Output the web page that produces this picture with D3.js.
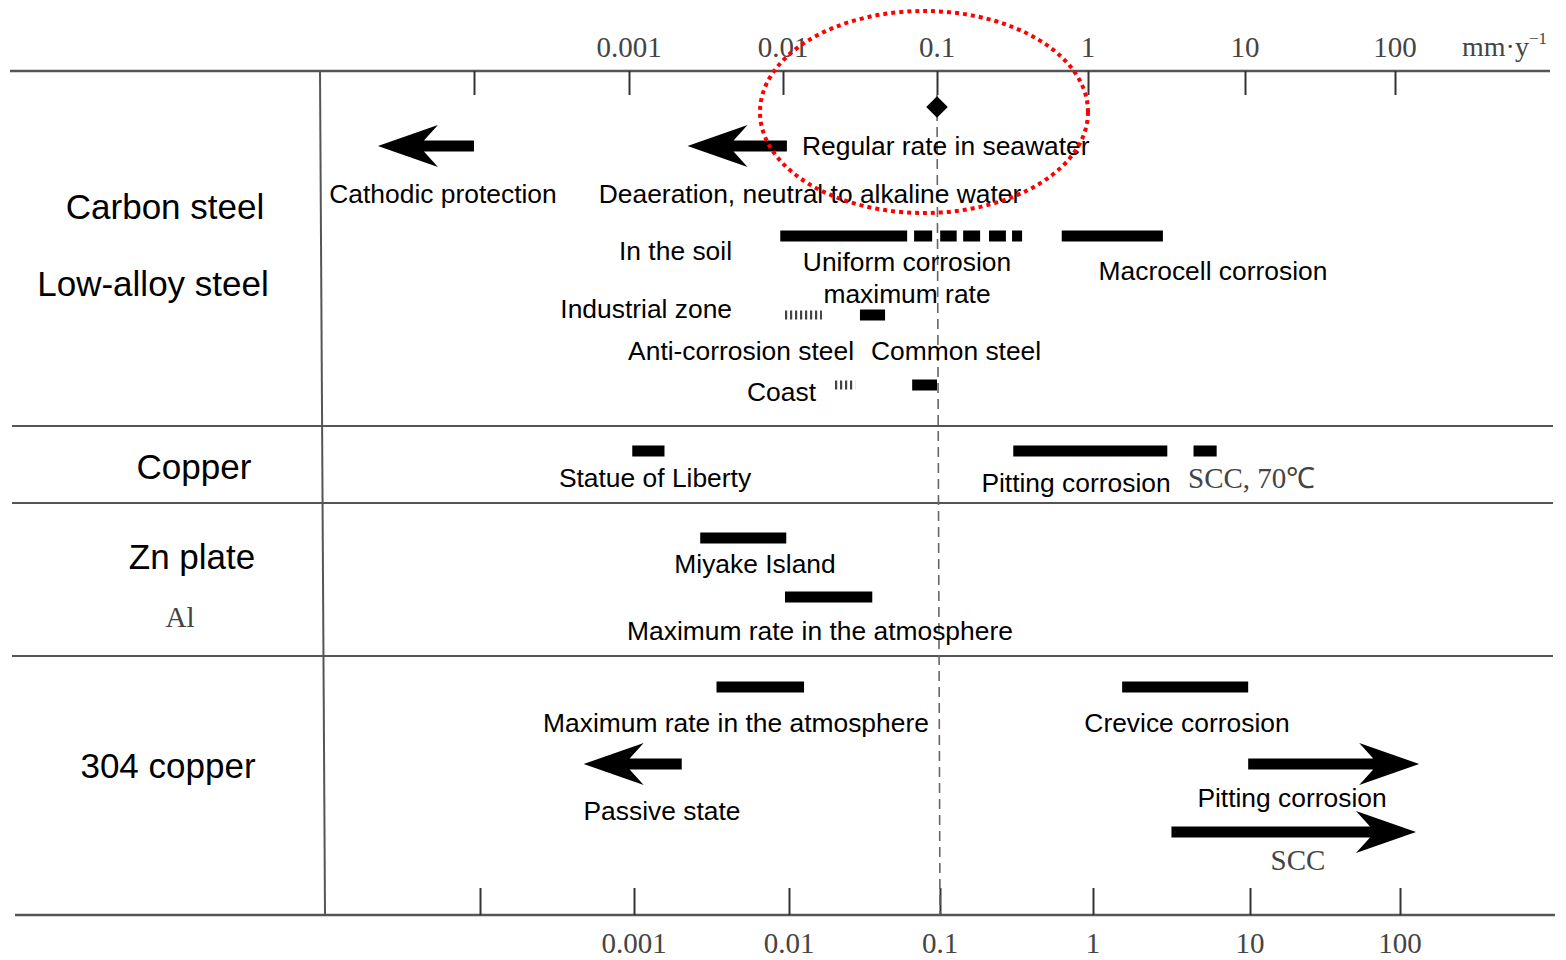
<!DOCTYPE html>
<html lang="en">
<head>
<meta charset="utf-8">
<title>Corrosion rates</title>
<script src="https://d3js.org/d3.v7.min.js"></script>
<style>
  body { margin: 0; background: #fff; }
  .sans { font-family: "Liberation Sans", Arial, sans-serif; fill: #000; }
  .serif { font-family: "Liberation Serif", "Times New Roman", serif; fill: #444; }
</style>
</head>
<body>
<script>
// decades of the rate axis (mm/y) and their labels
var decades = [0.0001, 0.001, 0.01, 0.1, 1, 10, 100];
var tickLabels = ["", "0.001", "0.01", "0.1", "1", "10", "100"];

// bars, [from, to] in mm/y
var soilBars = [[0.0096, 0.064], [0.071, 0.093], [0.105, 0.135], [0.149, 0.193], [0.221, 0.286], [0.314, 0.366], [0.67, 3.0]];
var industrialSolid = [[0.0316, 0.046]];
var industrialHatch = [[0.0103, 0.0179]];
var coastSolid = [[0.069, 0.1]];
var coastHatch = [[0.0214, 0.0294]];
var copperBars = [[0.00105, 0.0017], [0.32, 3.2], [4.7, 6.6]];
var znBars = [[0.0029, 0.0105]];
var alBars = [[0.0103, 0.038]];
var ss304Bars = [[0.0037, 0.0137], [1.65, 10.5]];

// arrows, [tail, tip] in mm/y
var cathodicArrow = [0.0001, 0.000024];
var deaerationArrow = [0.0106, 0.0024];
var passiveArrow = [0.0022, 0.00051];
var pittingArrow = [10.5, 145];
var sccArrow = [3.4, 138];

var seawaterRate = 0.1;

var w = 1566, h = 960;

var x = d3.scaleLog()
    .domain(decades)
    .range([474, 629, 783, 937, 1088, 1245, 1395]);
var xb = d3.scaleLog()
    .domain(decades)
    .range([480, 634, 789, 940, 1093, 1250, 1400]);

var svg = d3.select("body").append("svg")
    .attr("width", w)
    .attr("height", h);

var defs = svg.append("defs");
defs.append("pattern")
    .attr("id", "hatch")
    .attr("patternUnits", "userSpaceOnUse")
    .attr("width", 5).attr("height", 10)
    .append("rect")
    .attr("x", 0).attr("y", 0)
    .attr("width", 2.2).attr("height", 10)
    .attr("fill", "#444");

// frame lines
var lineCol = "#555";
svg.append("line").attr("x1", 10).attr("x2", 1550).attr("y1", 71).attr("y2", 71)
    .attr("stroke", lineCol).attr("stroke-width", 2.5);
svg.append("line").attr("x1", 15).attr("x2", 1555).attr("y1", 915).attr("y2", 915)
    .attr("stroke", lineCol).attr("stroke-width", 2.5);
[426, 503, 656].forEach(function(y) {
    svg.append("line").attr("x1", 12).attr("x2", 1553).attr("y1", y).attr("y2", y)
        .attr("stroke", lineCol).attr("stroke-width", 2);
});
svg.append("line").attr("x1", 320).attr("x2", 325).attr("y1", 71).attr("y2", 915)
    .attr("stroke", lineCol).attr("stroke-width", 2);

// top axis
var topAxis = d3.axisTop(x).tickValues(decades).tickSize(-24).tickFormat("");
var gTop = svg.append("g").attr("transform", "translate(0,71)").call(topAxis);
gTop.select(".domain").remove();
gTop.selectAll(".tick line").attr("stroke", "#333").attr("stroke-width", 2);

svg.selectAll(".toplab").data(decades).enter().append("text")
    .attr("class", "serif toplab")
    .attr("x", function(d) { return x(d); })
    .attr("y", 57)
    .attr("text-anchor", "middle")
    .attr("font-size", "29px")
    .text(function(d, i) { return tickLabels[i]; });
svg.append("text").attr("class", "serif")
    .attr("x", 1462).attr("y", 56).attr("font-size", "28px")
    .html('mm·y<tspan dy="-12" font-size="17px">−1</tspan>');

// bottom axis
var botAxis = d3.axisBottom(xb).tickValues(decades).tickSize(-27).tickFormat("");
var gBot = svg.append("g").attr("transform", "translate(0,915)").call(botAxis);
gBot.select(".domain").remove();
gBot.selectAll(".tick line").attr("stroke", "#333").attr("stroke-width", 2);

svg.selectAll(".botlab").data(decades).enter().append("text")
    .attr("class", "serif botlab")
    .attr("x", function(d) { return xb(d); })
    .attr("y", 953)
    .attr("text-anchor", "middle")
    .attr("font-size", "29px")
    .text(function(d, i) { return tickLabels[i]; });

// dashed line at seawater rate
svg.append("line")
    .attr("x1", x(seawaterRate)).attr("x2", xb(seawaterRate))
    .attr("y1", 95).attr("y2", 915)
    .attr("stroke", "#666").attr("stroke-width", 1.6)
    .attr("stroke-dasharray", "10,6");

// bars
function bars(data, y, fill, hgt) {
    svg.append("g").selectAll("rect").data(data).enter().append("rect")
        .attr("x", function(d) { return x(d[0]); })
        .attr("width", function(d) { return x(d[1]) - x(d[0]); })
        .attr("y", y - (hgt || 11) / 2)
        .attr("height", hgt || 11)
        .attr("fill", fill || "#000");
}
bars(soilBars, 236);
bars(industrialSolid, 315);
bars(industrialHatch, 315, "url(#hatch)", 9);
bars(coastSolid, 385);
bars(coastHatch, 385, "url(#hatch)", 9);
bars(copperBars, 451);
bars(znBars, 538);
bars(alBars, 597);
bars(ss304Bars, 687);

// arrows
function arrow(a, y) {
    var tail = x(a[0]), tip = x(a[1]);
    var dir = tip > tail ? -1 : 1;
    var p = d3.path();
    p.moveTo(tip, y);
    p.lineTo(tip + dir * 60, y - 21);
    p.lineTo(tip + dir * 46, y - 5.5);
    p.lineTo(tail, y - 5.5);
    p.lineTo(tail, y + 5.5);
    p.lineTo(tip + dir * 46, y + 5.5);
    p.lineTo(tip + dir * 60, y + 21);
    p.closePath();
    svg.append("path").attr("d", p.toString()).attr("fill", "#000");
}
arrow(cathodicArrow, 146);
arrow(deaerationArrow, 146);
arrow(passiveArrow, 764);
arrow(pittingArrow, 764);
arrow(sccArrow, 832);

// seawater diamond
svg.append("path")
    .attr("d", d3.symbol().type(d3.symbolSquare).size(230)())
    .attr("transform", "translate(" + x(seawaterRate) + ",107) rotate(45)")
    .attr("fill", "#000");

// text labels
function label(t, px, py, anchor, size, cls) {
    svg.append("text")
        .attr("class", cls || "sans")
        .attr("x", px).attr("y", py)
        .attr("dy", "0.35em")
        .attr("text-anchor", anchor || "middle")
        .attr("font-size", (size || 26.4) + "px")
        .text(t);
}
// materials
label("Carbon steel", 165, 207, "middle", 35);
label("Low-alloy steel", 153, 284, "middle", 35);
label("Copper", 194, 467, "middle", 35);
label("Zn plate", 192, 557, "middle", 35);
label("Al", 180, 617, "middle", 29, "serif");
label("304 copper", 168, 766, "middle", 35);

label("Regular rate in seawater", 802, 146, "start");
label("Cathodic protection", 443, 194);
label("Deaeration, neutral to alkaline water", 810, 194);
label("In the soil", 732, 251, "end");
label("Uniform corrosion", 907, 262);
label("maximum rate", 907, 294);
label("Macrocell corrosion", 1213, 271);
label("Industrial zone", 732, 309, "end");
label("Anti-corrosion steel", 854, 351, "end");
label("Common steel", 871, 351, "start");
label("Coast", 816, 392, "end");
label("Statue of Liberty", 655, 478);
label("Pitting corrosion", 1076, 483);
label("SCC, 70\u2103", 1188, 478, "start", 29, "serif");
label("Miyake Island", 755, 564);
label("Maximum rate in the atmosphere", 820, 631);
label("Maximum rate in the atmosphere", 736, 723);
label("Crevice corrosion", 1187, 723);
label("Passive state", 662, 811);
label("Pitting corrosion", 1292, 798);
label("SCC", 1298, 860, "middle", 29, "serif");

// red highlight
svg.append("ellipse")
    .attr("cx", 924).attr("cy", 112)
    .attr("rx", 164).attr("ry", 101)
    .attr("fill", "none")
    .attr("stroke", "#f00")
    .attr("stroke-width", 4)
    .attr("stroke-dasharray", "4,4");
</script>
</body>
</html>
